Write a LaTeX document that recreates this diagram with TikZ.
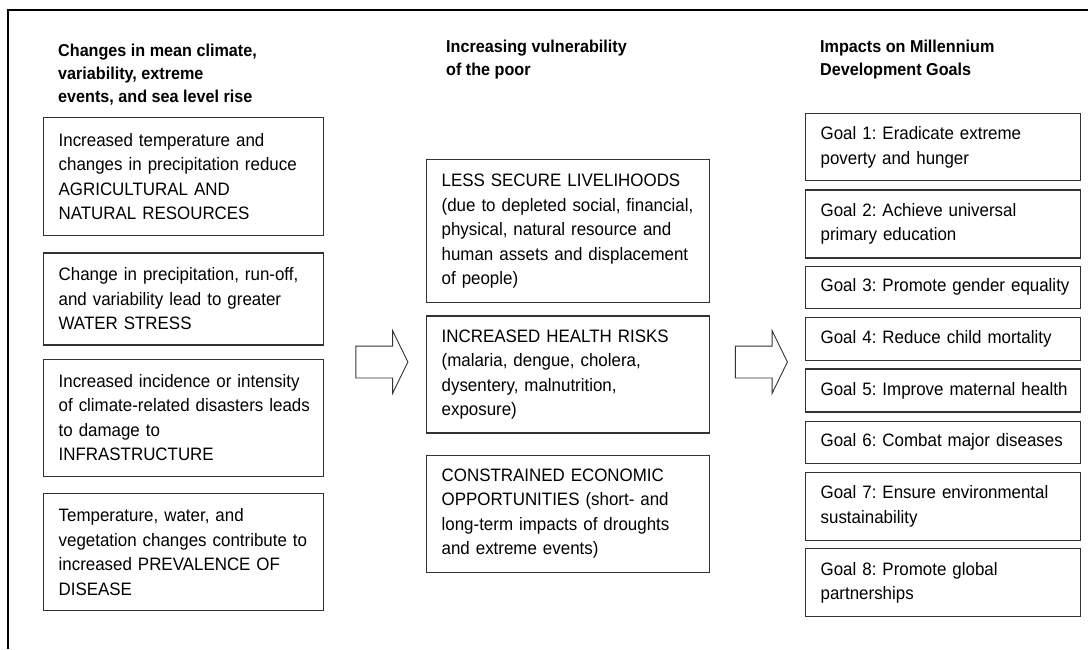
\documentclass[tikz,border=0pt]{standalone}
\usepackage{fontspec}
\setmainfont{Liberation Sans}[FakeStretch=0.94]
\usetikzlibrary{positioning,shapes.arrows}
\frenchspacing
\hyphenpenalty=10000
\exhyphenpenalty=10000

\begin{document}
\begin{tikzpicture}[x=1pt,y=-1pt,node distance=15pt,every node/.append style={align=left},
  head/.style={anchor=north west, inner sep=0pt, font=\fontsize{17.2}{23}\selectfont\bfseries},
  box/.style={draw=black!80, line width=1.3pt, inner xsep=15pt, inner ysep=0pt, font=\fontsize{18}{24.5}\selectfont,
    execute at begin node={\rightskip=0pt plus 1fil minus 500pt\relax}},
  climbox/.style={box, text width=250pt},
  poorbox/.style={box, text width=253pt},
  goalbox/.style={box, text width=245pt},
  blockarrow/.style={single arrow, draw=black!80, line width=0.9pt, inner xsep=0pt, inner ysep=15.5pt, minimum height=52pt,
    single arrow head extend=15.5pt, single arrow head indent=0pt, single arrow tip angle=128}]
    \useasboundingbox (0,0) rectangle (1088,649);
    \draw[line width=2.5pt] (8,649) -- (8,10) -- (1090,10);
    % column headings
    \node [head] (Hclim) at (58,44) {Changes in mean climate,\\variability, extreme\\events, and sea level rise};
    \node [head] (Hpoor) at (446,40) {Increasing vulnerability\\of the poor};
    \node [head] (Hgoal) at (820,40) {Impacts on Millennium\\Development Goals};
    % left column
    \node [climbox, anchor=north west, minimum height=118pt] (C1) at (43,117) {Increased temperature and\\changes in precipitation reduce\\AGRICULTURAL AND\\NATURAL RESOURCES};
    \node [climbox, below=16pt of C1, minimum height=92pt] (C2) {Change in precipitation, run-off,\\and variability lead to greater\\WATER STRESS};
    \node [climbox, below=13pt of C2, minimum height=117pt] (C3) {Increased incidence or intensity\\of climate-related disasters leads\\to damage to\\INFRASTRUCTURE};
    \node [climbox, below=16pt of C3, minimum height=117pt] (C4) {Temperature, water, and\\vegetation changes contribute to\\increased PREVALENCE OF\\DISEASE};
    % middle column
    \node [poorbox, anchor=north west, minimum height=143pt] (P1) at (426,159) {LESS SECURE LIVELIHOODS\\(due to depleted social, financial,\\physical, natural resource and\\human assets and displacement\\of people)};
    \node [poorbox, below=12pt of P1, minimum height=117pt] (P2) {INCREASED HEALTH RISKS\\(malaria, dengue, cholera,\\dysentery, malnutrition,\\exposure)};
    \node [poorbox, below=21pt of P2, minimum height=117pt] (P3) {CONSTRAINED ECONOMIC\\OPPORTUNITIES (short- and\\long-term impacts of droughts\\and extreme events)};
    % right column
    \node [goalbox, anchor=north west, minimum height=67pt] (G1) at (805,113) {Goal 1: Eradicate extreme\\poverty and hunger};
    \node [goalbox, below=8pt of G1, minimum height=68pt] (G2) {Goal 2: Achieve universal\\primary education};
    \node [goalbox, below=7pt of G2, minimum height=42pt] (G3) {Goal 3: Promote gender equality};
    \node [goalbox, below=8pt of G3, minimum height=43pt] (G4) {Goal 4: Reduce child mortality};
    \node [goalbox, below=7pt of G4, minimum height=43pt] (G5) {Goal 5: Improve maternal health};
    \node [goalbox, below=8pt of G5, minimum height=42pt] (G6) {Goal 6: Combat major diseases};
    \node [goalbox, below=8pt of G6, minimum height=68pt] (G7) {Goal 7: Ensure environmental\\sustainability};
    \node [goalbox, below=7pt of G7, minimum height=68pt] (G8) {Goal 8: Promote global\\partnerships};
    % block arrows
    \node [blockarrow] (A1) at (378,362) {};
    \node [blockarrow] (A2) at (757.5,362) {};
\end{tikzpicture}
\end{document}
